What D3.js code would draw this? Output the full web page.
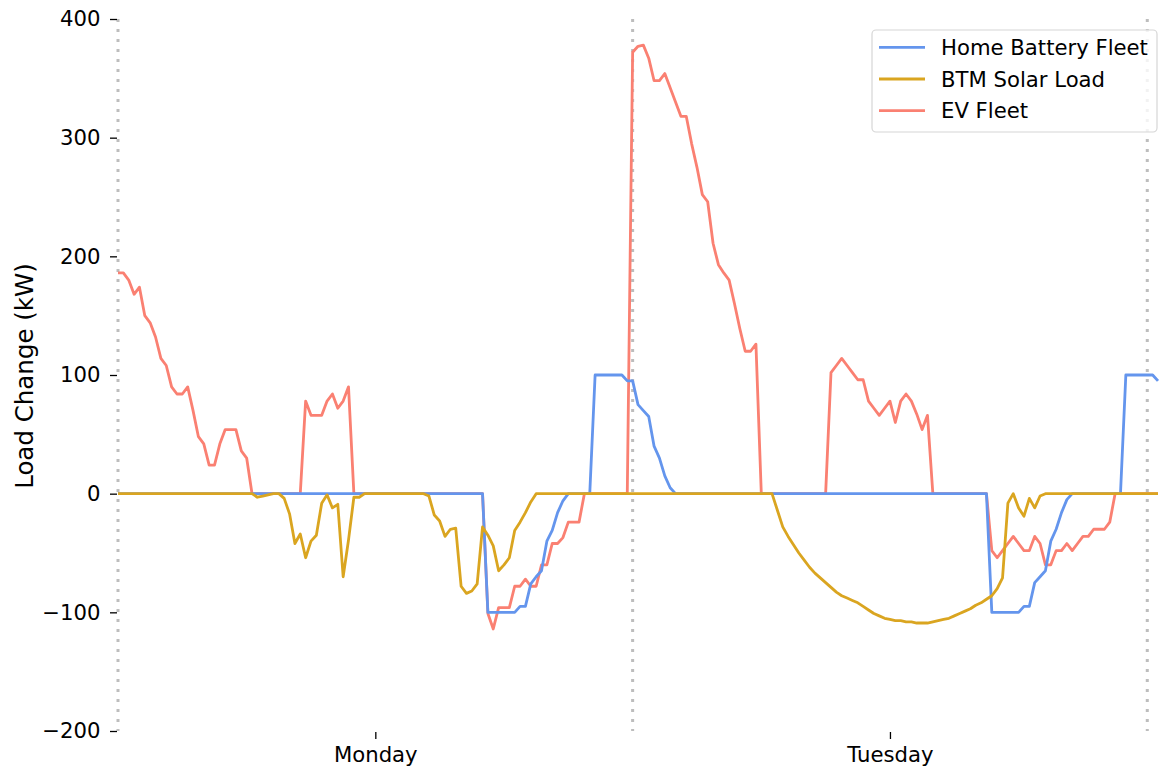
<!DOCTYPE html>
<html><head><meta charset="utf-8">
<script src="https://cdn.jsdelivr.net/npm/d3@7"></script>
<style>
body{margin:0;background:#fff}
text{font-family:"DejaVu Sans",sans-serif;fill:#000}
</style>
</head><body>
<svg id="chart" width="1160" height="772"></svg>
<script>
// ---- data (15-minute steps starting Monday 00:00) ----
const stepMinutes = 15;
const dayLabels = ["Monday", "Tuesday"];
const yTicks = [-200, -100, 0, 100, 200, 300, 400];
const seriesNames = ["Home Battery Fleet", "BTM Solar Load", "EV Fleet"];
const seriesColors = ["#6495ED", "#DAA520", "#FA8072"];

const homeBattery = [
  0,0,0,0,0,0,0,0,0,0,0,0,
  0,0,0,0,0,0,0,0,0,0,0,0,
  0,0,0,0,0,0,0,0,0,0,0,0,
  0,0,0,0,0,0,0,0,0,0,0,0,
  0,0,0,0,0,0,0,0,0,0,0,0,
  0,0,0,0,0,0,0,0,0,-100,-100,-100,
  -100,-100,-100,-95,-95,-76,-70,-65,-40,-31,-16,-6,
  0,0,0,0,0,100,100,100,100,100,100,95,
  95,75,70,65,40,30,15,5,0,0,0,0,
  0,0,0,0,0,0,0,0,0,0,0,0,
  0,0,0,0,0,0,0,0,0,0,0,0,
  0,0,0,0,0,0,0,0,0,0,0,0,
  0,0,0,0,0,0,0,0,0,0,0,0,
  0,0,0,0,0,0,0,-100,-100,-100,-100,-100,
  -100,-95,-95,-75,-70,-65,-40,-30,-16,-5,0,0,
  0,0,0,0,0,0,0,0,100,100,100,100,
  100,100,95
];

const btmSolar = [
  0,0,0,0,0,0,0,0,0,0,0,0,
  0,0,0,0,0,0,0,0,0,0,0,0,
  0,0,-3,-2,-1,0,0,-4,-17,-42,-34,-54,
  -40,-35,-8,-1,-12,-9,-70,-39,-3,-3,0,0,
  0,0,0,0,0,0,0,0,0,0,-2,-18,
  -23,-36,-30,-29,-78,-84,-82,-76,-28,-35,-44,-65,
  -60,-54,-31,-24,-16,-7,0,0,0,0,0,0,
  0,0,0,0,0,0,0,0,0,0,0,0,
  0,0,0,0,0,0,0,0,0,0,0,0,
  0,0,0,0,0,0,0,0,0,0,0,0,
  0,0,0,-14,-28,-36,-43,-50,-56,-62,-67,-71,
  -75,-79,-83,-86,-88,-90,-92,-95,-98,-101,-103,-105,
  -106,-107,-107,-108,-108,-109,-109,-109,-108,-107,-106,-105,
  -103,-101,-99,-97,-94,-92,-89,-86,-80,-71,-8,0,
  -12,-19,-4,-12,-2,0,0,0,0,0,0,0,
  0,0,0,0,0,0,0,0,0,0,0,0,
  0,0,0
];

const evFleet = [
  186,186,180,168,174,150,144,132,114,108,90,84,
  84,90,70,48,42,24,24,42,54,54,54,36,
  30,0,0,0,0,0,0,0,0,0,0,78,
  66,66,66,78,84,72,78,90,0,0,0,0,
  0,0,0,0,0,0,0,0,0,0,0,0,
  0,0,0,0,0,0,0,0,0,-101,-114,-96,
  -96,-96,-78,-78,-72,-78,-78,-60,-60,-42,-42,-37,
  -24,-24,-24,0,0,0,0,0,0,0,0,0,
  372,377,378,367,348,348,354,342,330,318,318,295,
  275,252,246,211,193,186,180,160,139,120,120,126,
  0,0,0,0,0,0,0,0,0,0,0,0,
  0,102,108,114,108,102,96,96,78,72,66,72,
  78,60,78,84,78,67,54,66,0,0,0,0,
  0,0,0,0,0,0,0,-48,-54,-48,-42,-36,
  -42,-48,-48,-36,-42,-60,-60,-48,-48,-42,-48,-42,
  -36,-36,-30,-30,-30,-24,0,0,0,0,0,0,
  0,0,0
];

// ---- layout ----
const svg = d3.select("#chart");
const plotLeft = 118, plotRight = 1158, plotTop = 19, plotBottom = 731;
const stepsPerDay = 24 * 60 / stepMinutes;
const n = homeBattery.length;
const fs = 21.2;

const x = d3.scaleLinear().domain([0, n - 1]).range([plotLeft, plotRight]);
const y = d3.scaleLinear().domain([-200, 400]).range([plotBottom, plotTop]);

// midnight dotted lines
const midnights = d3.range(0, n, stepsPerDay);
svg.append("g").selectAll("line").data(midnights).join("line")
  .attr("x1", d => x(d)).attr("x2", d => x(d))
  .attr("y1", plotTop).attr("y2", plotBottom)
  .attr("stroke", "#bdbdbd").attr("stroke-width", 3)
  .attr("stroke-dasharray", "3,7");

// series
const line = d3.line().x((d, i) => x(i)).y(d => y(d));
const data = [homeBattery, btmSolar, evFleet];
const drawOrder = [2, 0, 1];
drawOrder.forEach(k => {
  svg.append("path").datum(data[k])
    .attr("d", line).attr("fill", "none")
    .attr("stroke", seriesColors[k]).attr("stroke-width", 2.8)
    .attr("stroke-linejoin", "round");
});

// y axis
const yAxis = svg.append("g").attr("transform", `translate(${plotLeft - 1},0)`)
  .call(d3.axisLeft(y).tickValues(yTicks).tickSize(7).tickPadding(9.5).tickSizeOuter(0)
    .tickFormat(d => d < 0 ? "\u2212" + Math.abs(d) : d));
yAxis.select(".domain").remove();
yAxis.selectAll("line").attr("stroke", "#000").attr("stroke-width", 1.3);
yAxis.selectAll("text").attr("font-size", fs).attr("font-family", "DejaVu Sans").attr("fill", "#000");

// x axis
const noonTicks = dayLabels.map((d, i) => i * stepsPerDay + stepsPerDay / 2);
const xAxis = svg.append("g").attr("transform", `translate(0,${plotBottom + 1})`)
  .call(d3.axisBottom(x).tickValues(noonTicks).tickSize(7).tickPadding(8).tickSizeOuter(0)
    .tickFormat((d, i) => dayLabels[i]));
xAxis.select(".domain").remove();
xAxis.selectAll("line").attr("stroke", "#000").attr("stroke-width", 1.3);
xAxis.selectAll("text").attr("font-size", fs).attr("font-family", "DejaVu Sans").attr("fill", "#000");

// y label
svg.append("text")
  .attr("transform", "translate(32.5,376) rotate(-90)")
  .attr("text-anchor", "middle").attr("font-size", 24.5)
  .text("Load Change (kW)");

// legend
const lg = svg.append("g");
lg.append("rect").attr("x", 872).attr("y", 30).attr("width", 285).attr("height", 102)
  .attr("rx", 4).attr("fill", "#fff").attr("fill-opacity", 0.8)
  .attr("stroke", "#d6d6d6").attr("stroke-width", 1.2);
seriesNames.forEach((name, i) => {
  const yy = 47.3 + i * 31.7;
  lg.append("line").attr("x1", 879).attr("x2", 925).attr("y1", yy).attr("y2", yy)
    .attr("stroke", seriesColors[i]).attr("stroke-width", 2.8);
  lg.append("text").attr("x", 941).attr("y", yy + 7.7).attr("font-size", fs).text(name);
});
</script>
</body></html>
